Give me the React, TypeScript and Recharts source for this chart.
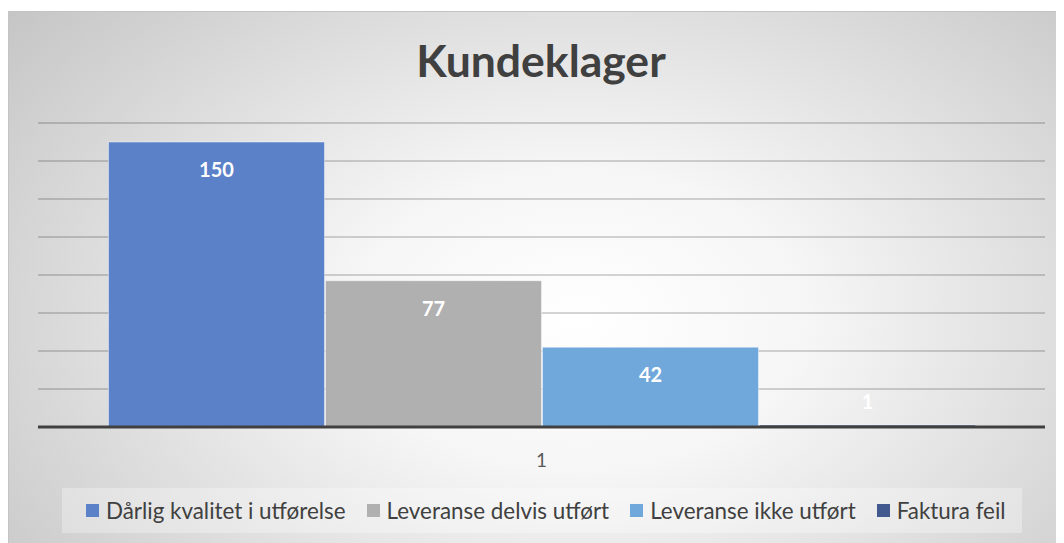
import React from "react";
import { BarChart, Bar, XAxis, YAxis, CartesianGrid, LabelList } from "recharts";

const categories = ["1"];
const seriesNames = ["Dårlig kvalitet i utførelse", "Leveranse delvis utført", "Leveranse ikke utført", "Faktura feil"];
const seriesKeys = ["s1", "s2", "s3", "s4"];
const seriesValues = [150, 77, 42, 1];
const seriesColors = ["#5b82c9", "#b0b0b0", "#70a8dc", "#41598f"];
const yTicks = [0, 20, 40, 60, 80, 100, 120, 140, 160];
const title = "Kundeklager";

const data = categories.map((c) => {
  const row: Record<string, any> = { name: c };
  seriesKeys.forEach((k, i) => (row[k] = seriesValues[i]));
  return row;
});

const FONT = "Lato, 'Open Sans', sans-serif";

const renderLabel = (props: any) => {
  const { x, y, width, height, value } = props;
  const cy = Math.min(y + 27, y + height - 26);
  return (
    <text x={x + width / 2} y={cy} fill="#ffffff" fontFamily={FONT} fontSize={20} fontWeight={700} textAnchor="middle" dominantBaseline="central">
      {value}
    </text>
  );
};

export default function App() {
  return (
    <div
      style={{
        position: "relative",
        marginTop: 3,
        width: 1056,
        height: 532,
        boxSizing: "border-box",
        borderLeft: "1px solid #c4c4c4",
        borderTop: "1px solid #c4c4c4",
        background: "radial-gradient(ellipse 72% 95% at 54% 58%, #ffffff 0%, #f6f6f6 30%, #c3c3c3 100%)",
        fontFamily: FONT,
        overflow: "hidden",
      }}
    >
      <div
        style={{
          position: "absolute",
          left: 0,
          width: 1064,
          top: 23,
          textAlign: "center",
          fontSize: 44.5,
          fontWeight: 700,
          color: "#404040",
          lineHeight: "50px",
        }}
      >
        {title}
      </div>
      <div style={{ position: "absolute", left: -1, top: -1 }}>
        <BarChart width={1056} height={532} data={data} margin={{ top: 112, right: 19, bottom: 76, left: 30 }} barCategoryGap="7%" barGap={1}>
          <CartesianGrid vertical={false} stroke="rgba(0,0,0,0.22)" strokeWidth={1.3} />
          <YAxis hide domain={[0, 160]} ticks={yTicks} />
          <XAxis
            dataKey="name"
            height={40}
            axisLine={{ stroke: "#404040", strokeWidth: 3 }}
            tickLine={false}
            tick={{ fill: "#595959", fontSize: 19, fontFamily: FONT }}
            tickMargin={21}
          />
          {seriesKeys.map((k, i) => (
            <Bar key={k} dataKey={k} name={seriesNames[i]} fill={seriesColors[i]} stroke="rgba(255,255,255,0.45)" strokeWidth={1} isAnimationActive={false}>
              <LabelList dataKey={k} content={renderLabel} />
            </Bar>
          ))}
        </BarChart>
      </div>
      <div
        style={{
          position: "absolute",
          left: 53,
          top: 476,
          width: 960,
          height: 45,
          background: "rgba(255,255,255,0.3)",
          display: "flex",
          alignItems: "center",
          fontSize: 22.4,
          color: "#404040",
          whiteSpace: "nowrap",
        }}
      >
        {seriesNames.map((n, i) => (
          <div key={n} style={{ display: "flex", alignItems: "center", marginLeft: i === 0 ? 24 : 21 }}>
            <span style={{ display: "inline-block", width: 13, height: 13, background: seriesColors[i], marginRight: 7 }} />
            <span>{n}</span>
          </div>
        ))}
      </div>
    </div>
  );
}
